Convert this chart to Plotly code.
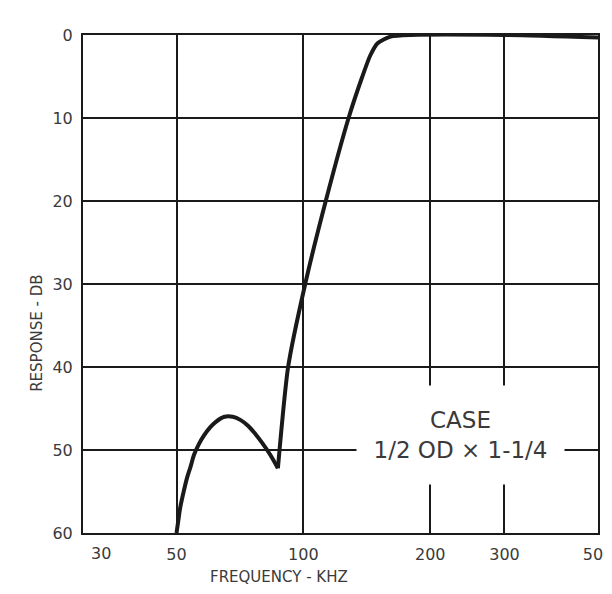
import plotly.graph_objects as go

# lower lobe of the stop band (kHz, dB)
lobe_freq = [50, 50.5, 51, 52, 53, 54, 55, 56.5, 58, 60, 62, 65, 68, 71, 74, 77, 80, 83.5, 87]
lobe_db = [60, 58.5, 57, 55, 53.3, 52, 50.6, 49.3, 48.3, 47.3, 46.6, 46, 46, 46.4, 47.1, 48.1, 49.2, 50.6, 52.2]
# rising edge and pass band (kHz, dB)
rise_freq = [87, 92, 101, 113, 128, 138, 144, 150, 161, 180, 300, 500]
rise_db = [52.2, 40, 30, 20, 10, 5, 2.5, 1, 0.2, 0, 0, 0.3]

x_ticks = [30, 50, 100, 200, 300, 500]
x_ticktext = ["", "50", "100", "200", "300", "500"]
first_x_label = "30"
y_ticks = [0, 10, 20, 30, 40, 50, 60]

ink = "#1a1a1a"
txt = "#3a3a3a"

fig = go.Figure()
fig.add_trace(go.Scatter(
    x=lobe_freq, y=lobe_db, mode="lines",
    line=dict(color=ink, width=4, shape="spline", smoothing=1.0),
    showlegend=False, hoverinfo="skip",
))
fig.add_trace(go.Scatter(
    x=rise_freq, y=rise_db, mode="lines",
    line=dict(color=ink, width=4, shape="spline", smoothing=0.6),
    showlegend=False, hoverinfo="skip",
))

fig.add_annotation(
    x=2.373, y=48.2, xref="x", yref="y",
    text="CASE<br>1/2 OD × 1-1/4",
    showarrow=False, bgcolor="white",
    width=205, height=96,
    font=dict(family="DejaVu Sans", size=23, color=txt),
)
fig.add_annotation(
    x=0, y=0, xref="paper", yref="paper",
    text=first_x_label, showarrow=False,
    xanchor="center", yanchor="middle", xshift=18, yshift=-20,
    font=dict(family="DejaVu Sans", size=16, color=txt),
)
fig.add_annotation(
    x=0.381, y=0, xref="paper", yref="paper",
    text="FREQUENCY - KHZ", showarrow=False,
    yanchor="middle", yshift=-44,
    font=dict(family="DejaVu Sans", size=15, color=txt),
)
fig.add_annotation(
    x=0, y=0.40, xref="paper", yref="paper",
    text="RESPONSE - DB", showarrow=False, textangle=-90,
    xanchor="center", xshift=-46,
    font=dict(family="DejaVu Sans", size=15, color=txt),
)

fig.update_layout(
    width=604, height=578,
    margin=dict(l=75, r=14, t=27, b=53),
    paper_bgcolor="white", plot_bgcolor="white",
    font=dict(family="DejaVu Sans", color=txt),
)
fig.update_xaxes(
    type="log", range=[1.47712, 2.69898],
    tickvals=x_ticks, ticktext=x_ticktext,
    showgrid=True, gridcolor=ink, gridwidth=2,
    showline=True, linecolor=ink, linewidth=2, mirror=True,
    ticks="", tickfont=dict(size=16, color=txt), ticklabelstandoff=6,
    ticklabeloverflow="allow",
    automargin=False, zeroline=False,
)
fig.update_yaxes(
    range=[60, 0], tickvals=y_ticks,
    showgrid=True, gridcolor=ink, gridwidth=2,
    showline=True, linecolor=ink, linewidth=2, mirror=True,
    ticks="", tickfont=dict(size=16, color=txt), ticklabelstandoff=5,
    automargin=False, zeroline=False,
)

fig.write_html("out.html")
